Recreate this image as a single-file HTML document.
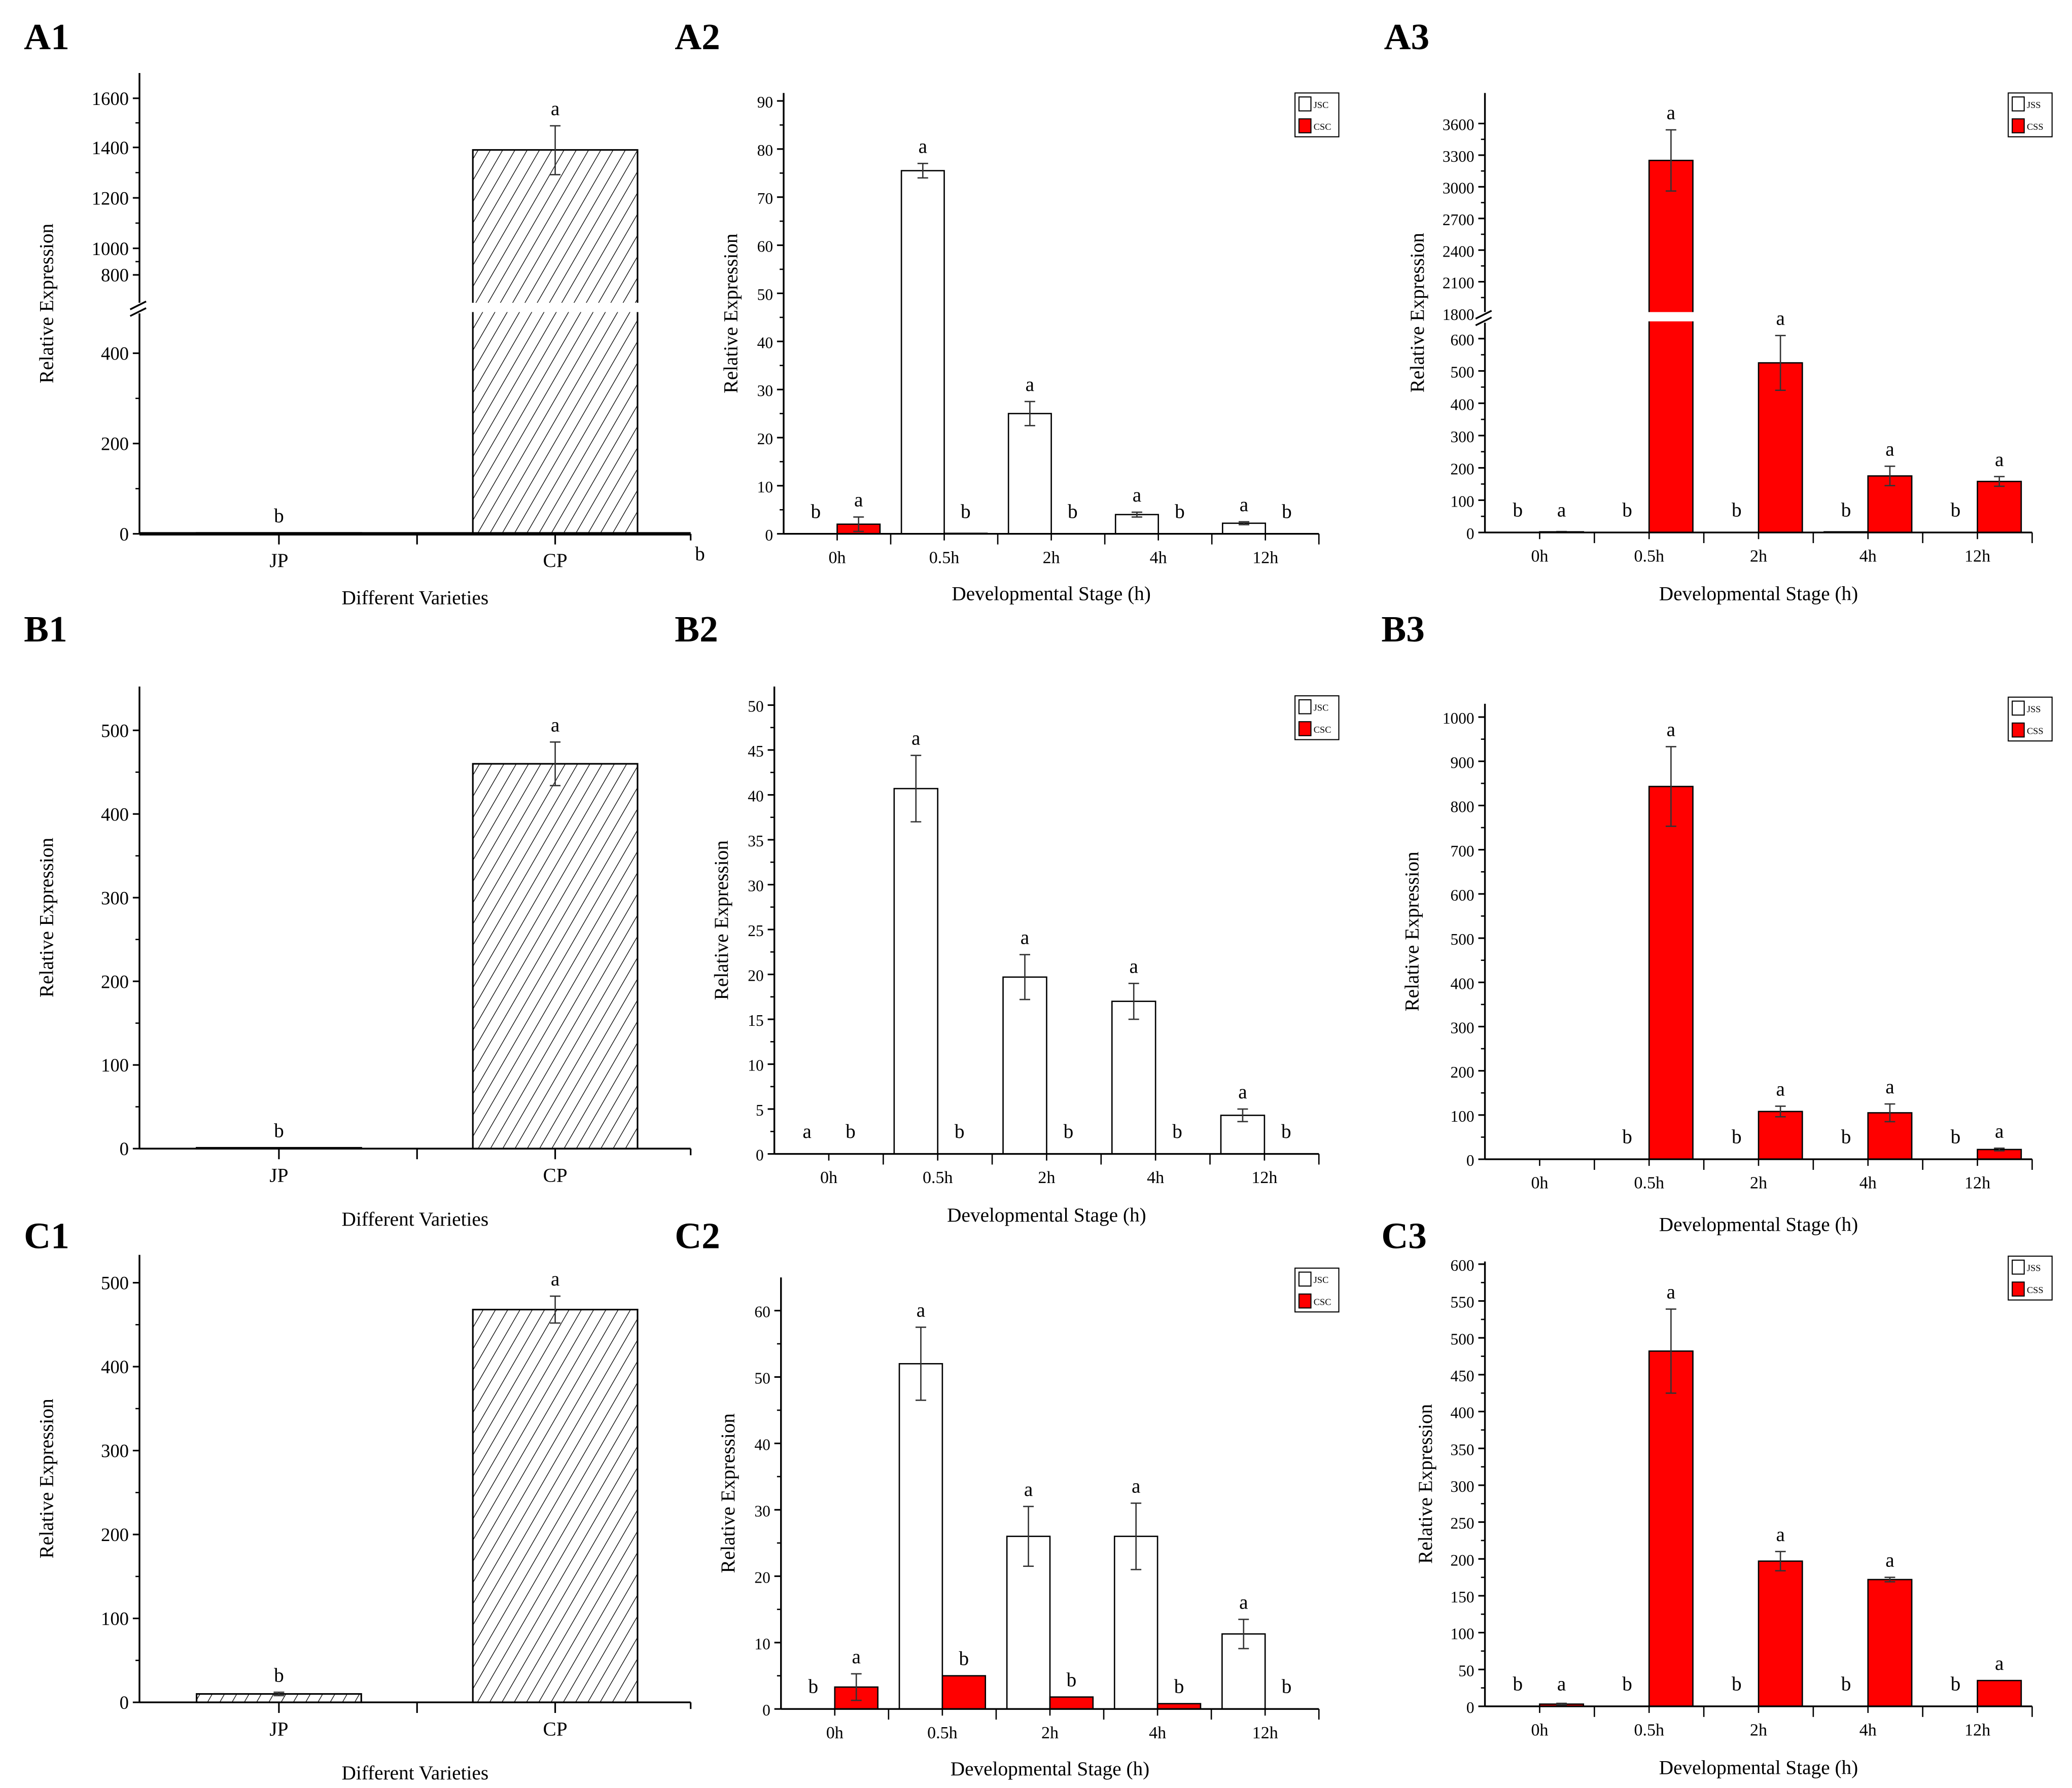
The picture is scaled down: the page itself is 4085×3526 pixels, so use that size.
<!DOCTYPE html>
<html><head><meta charset="utf-8"><style>
html,body{margin:0;padding:0;background:#fff}
svg{display:block;font-family:"Liberation Serif",serif}
</style></head><body>
<svg id="fig" width="4085" height="3526" viewBox="0 0 1560 1346.5" xmlns="http://www.w3.org/2000/svg">
<defs><pattern id="hatch" patternUnits="userSpaceOnUse" width="8" height="8" patternTransform="rotate(30)"><rect width="8" height="8" fill="#fff"/><line x1="0" y1="0" x2="0" y2="8" stroke="#000" stroke-width="1"/></pattern></defs>
<rect width="1560" height="1346.5" fill="#fff"/>
</svg>
<script>
// ---- data ----
const A1_cats=["JP","CP"]; const A1_vals=[2,1390]; const A1_err=[0,98]; const A1_let=["b","a"];
const A1_ticks=[0,200,400,800,1000,1200,1400,1600];
const B1_cats=["JP","CP"]; const B1_vals=[1,460]; const B1_err=[0,26]; const B1_let=["b","a"];
const B1_ticks=[0,100,200,300,400,500];
const C1_cats=["JP","CP"]; const C1_vals=[10,468]; const C1_err=[2,16]; const C1_let=["b","a"];
const C1_ticks=[0,100,200,300,400,500];
const stages=["0h","0.5h","2h","4h","12h"];
const A2_jsc=[0,75.5,25,4,2.2]; const A2_jscErr=[0,1.5,2.5,0.5,0.3]; const A2_csc=[2,0.1,0,0,0]; const A2_cscErr=[1.5,0,0,0,0];
const A2_ljsc=["b","a","a","a","a"]; const A2_lcsc=["a","b","b","b","b"]; const A2_ticks=[0,10,20,30,40,50,60,70,80,90];
const B2_jsc=[0,40.7,19.7,17,4.3]; const B2_jscErr=[0,3.7,2.5,2,0.7]; const B2_csc=[0,0,0,0,0]; const B2_cscErr=[0,0,0,0,0];
const B2_ljsc=["a","a","a","a","a"]; const B2_lcsc=["b","b","b","b","b"]; const B2_ticks=[0,5,10,15,20,25,30,35,40,45,50];
const C2_jsc=[0,52,26,26,11.3]; const C2_jscErr=[0,5.5,4.5,5,2.2]; const C2_csc=[3.3,5,1.8,0.8,0]; const C2_cscErr=[2,0,0,0,0];
const C2_ljsc=["b","a","a","a","a"]; const C2_lcsc=["a","b","b","b","b"]; const C2_ticks=[0,10,20,30,40,50,60];
const A3_jss=[0,0,0,2,0]; const A3_css=[2,3250,525,175,158]; const A3_cssErr=[1,290,85,30,15];
const A3_ljss=["b","b","b","b","b"]; const A3_lcss=["a","a","a","a","a"];
const A3_ticks=[0,100,200,300,400,500,600,1800,2100,2400,2700,3000,3300,3600];
const B3_jss=[0,0,0,0,0]; const B3_css=[0,843,108,105,22]; const B3_cssErr=[0,90,12,20,3];
const B3_ljss=["","b","b","b","b"]; const B3_lcss=["","a","a","a","a"];
const B3_ticks=[0,100,200,300,400,500,600,700,800,900,1000];
const C3_jss=[0,0,0,0,0]; const C3_css=[3,482,197,172,35]; const C3_cssErr=[1,57,13,3,0];
const C3_ljss=["b","b","b","b","b"]; const C3_lcss=["a","a","a","a","a"];
const C3_ticks=[0,50,100,150,200,250,300,350,400,450,500,550,600];

const svg=document.getElementById('fig'); const NS='http://www.w3.org/2000/svg';
function mk(tag,attrs,parent){const e=document.createElementNS(NS,tag);for(const k in attrs)e.setAttribute(k,attrs[k]);(parent||svg).appendChild(e);return e;}
function txt(s,x,y,size,anchor,parent,extra){const t=mk('text',Object.assign({x:x,y:y,'font-size':size,'text-anchor':anchor||'middle'},extra||{}),parent);t.textContent=s;return t;}
// piecewise linear scale through [value,pixel] knots
function pscale(knots){return v=>{for(let i=0;i<knots.length-1;i++){const a=knots[i],b=knots[i+1];if(v<=b[0]||i==knots.length-2){return a[1]+(v-a[0])*(b[1]-a[1])/(b[0]-a[0]);}}};}
function label(s,x,y){const t=txt(s,x,y,28,'start',null,{'font-weight':'bold'});}

function axes(g,p,ticks,y){
  mk('line',{x1:p.x0,y1:p.top,x2:p.x0,y2:p.bot,stroke:'#000','stroke-width':1.3},g);
  mk('line',{x1:p.x0,y1:p.bot,x2:p.x1,y2:p.bot,stroke:'#000','stroke-width':p.thick||1.3},g);
  ticks.forEach(v=>{const yy=y(v);mk('line',{x1:p.x0-5,y1:yy,x2:p.x0,y2:yy,stroke:'#000','stroke-width':1.2},g);
    const t=txt(String(v),p.x0-8,yy+5,p.fs||14,'end',g);});
  for(let i=0;i<ticks.length-1;i++){if(p.brk&&ticks[i]==p.brk[0])continue;const m=y((ticks[i]+ticks[i+1])/2);mk('line',{x1:p.x0-3,y1:m,x2:p.x0,y2:m,stroke:'#000','stroke-width':1},g);}
  const yt=txt('Relative Expression',0,0,15,'middle',g,{transform:`translate(${p.yt},${(p.top+p.bot)/2}) rotate(-90)`});
  
  const xt=txt(p.xtitle,(p.x0+p.x1)/2-(p.xtOff||0),p.xty,15,'middle',g);
  
}
function errbar(g,x,y0,y1,y2){mk('line',{x1:x,y1:y1,x2:x,y2:y2,stroke:'#333','stroke-width':1},g);[y1,y2].forEach(yy=>mk('line',{x1:x-4,y1:yy,x2:x+4,y2:yy,stroke:'#333','stroke-width':1},g));}
function breakMark(g,p,yb,bar){
  mk('rect',{x:p.x0-6,y:yb-4,width:12,height:8,fill:'#fff'},g);
  mk('line',{x1:p.x0-7,y1:yb+1,x2:p.x0+5,y2:yb-5,stroke:'#000','stroke-width':1.3},g);
  mk('line',{x1:p.x0-7,y1:yb+6,x2:p.x0+5,y2:yb,stroke:'#000','stroke-width':1.3},g);
  if(bar)mk('rect',{x:bar[0]-1,y:yb-4,width:bar[1]+2,height:7,fill:'#fff'},g);
}
function panel1(name,p,cats,vals,err,lets,ticks,knots){
  const g=mk('g',{});  
  const y=pscale(knots);
  const cx=[p.x0+105,p.x0+313]; const bw=124;
  cats.forEach((c,i)=>{const yv=y(vals[i]);
    const r=mk('rect',{x:cx[i]-bw/2,y:yv,width:bw,height:p.bot-yv,fill:'url(#hatch)',stroke:'#000','stroke-width':1.2},g);
    
    if(err[i]>0)errbar(g,cx[i],yv,y(vals[i]+err[i]),y(vals[i]-err[i]));
    const lt=txt(lets[i],cx[i],y(vals[i]+err[i])-8,15,'middle',g);
    const xl=txt(c,cx[i],p.bot+25,15,'middle',g);
  });
  p.thick=p.brk?2.5:1.3;
  axes(g,p,ticks,y);
  [cx[0],(cx[0]+cx[1])/2,cx[1],p.x1].forEach(x=>mk('line',{x1:x,y1:p.bot,x2:x,y2:p.bot+(x==p.x1?5:8),stroke:'#000','stroke-width':1.2},g));
  if(p.brk)breakMark(g,p,p.brkY,[cx[1]-bw/2,bw]);
  return g;
}
function legend(g,x,y,h,names){
  const lg=mk('g',{},g);
  mk('rect',{x:x,y:y,width:33,height:h,fill:'#fff',stroke:'#000','stroke-width':0.8},lg);
  names.forEach((n,i)=>{const yy=y+3+i*h/2;mk('rect',{x:x+3,y:yy,width:9,height:h/2-6,fill:i?'#ff0000':'#fff',stroke:'#000','stroke-width':0.8},lg);
    const t=txt(n,x+14,yy+h/4,7,'start',lg);});
}
function panel2(name,p,s1,e1,s2,e2,l1,l2,ticks,knots,leg){
  const g=mk('g',{});  
  const y=pscale(knots); const gw=(p.x1-p.x0)/5; const bw=gw*0.4;
  stages.forEach((s,i)=>{const c=p.x0+gw*(i+0.5);
    [[s1,e1,l1,'#fff',-1],[s2,e2,l2,'#ff0000',0]].forEach(([v,e,l,col,off],k)=>{
      const yv=y(v[i]); const bx=c+off*bw;
      if(v[i]>0){const r=mk('rect',{x:bx,y:yv,width:bw,height:p.bot-yv,fill:col,stroke:'#000','stroke-width':1},g);
        }
      if(e[i]>0)errbar(g,bx+bw/2,yv,y(v[i]+e[i]),y(Math.max(0,v[i]-e[i])));
      if(l[i]){const lt=txt(l[i],bx+bw/2,Math.min(y(v[i]+e[i]),p.bot-4)-8,15,'middle',g);}
    });
    mk('line',{x1:c,y1:p.bot,x2:c,y2:p.bot+5,stroke:'#000','stroke-width':1},g);
    mk('line',{x1:p.x0+gw*(i+1),y1:p.bot,x2:p.x0+gw*(i+1),y2:p.bot+8,stroke:'#000','stroke-width':1},g);
    const xl=txt(s,c,p.bot+22,13,'middle',g);
  });
  p.fs=12; axes(g,p,ticks,y);
  if(p.brk)breakMark(g,p,p.brkY,[p.x0+gw*1.5,bw]);
  legend(g,p.lx,p.ly,33,leg);
  return g;
}
label('A1',18,37);label('A2',508,37);label('A3',1042,37);
label('B1',18,483);label('B2',508,483);label('B3',1040,483);
label('C1',18,940);label('C2',508,940);label('C3',1040,940);

panel1('chart-a1',{x0:105,x1:520,top:55,bot:402,yt:40,xtitle:'Different Varieties',xty:455,brk:[400],brkY:232},A1_cats,A1_vals,A1_err,A1_let,A1_ticks,
  [[0,402],[200,334],[400,266],[530,222],[700,217],[800,207],[1000,187],[1200,149],[1400,111],[1600,74]]);
(function(){const t=txt('b',527,422,15,'middle');})();
panel1('chart-b1',{x0:105,x1:520,top:517,bot:865,yt:40,xtitle:'Different Varieties',xty:923},B1_cats,B1_vals,B1_err,B1_let,B1_ticks,[[0,865],[500,550]]);
panel1('chart-c1',{x0:105,x1:520,top:945,bot:1282,yt:40,xtitle:'Different Varieties',xty:1340},C1_cats,C1_vals,C1_err,C1_let,C1_ticks,[[0,1282],[500,966]]);

panel2('chart-a2',{x0:590,x1:993,top:70,bot:402,yt:555,xtitle:'Developmental Stage (h)',xty:452,lx:975,ly:70},A2_jsc,A2_jscErr,A2_csc,A2_cscErr,A2_ljsc,A2_lcsc,A2_ticks,[[0,402],[90,76]],['JSC','CSC']);
panel2('chart-b2',{x0:583,x1:993,top:517,bot:869,yt:548,xtitle:'Developmental Stage (h)',xty:920,lx:975,ly:524},B2_jsc,B2_jscErr,B2_csc,B2_cscErr,B2_ljsc,B2_lcsc,B2_ticks,[[0,869],[50,531]],['JSC','CSC']);
panel2('chart-c2',{x0:588,x1:993,top:962,bot:1287,yt:553,xtitle:'Developmental Stage (h)',xty:1337,lx:975,ly:955},C2_jsc,C2_jscErr,C2_csc,C2_cscErr,C2_ljsc,C2_lcsc,C2_ticks,[[0,1287],[60,987]],['JSC','CSC']);

panel2('chart-a3',{x0:1118,x1:1530,top:70,bot:401,yt:1072,xtitle:'Developmental Stage (h)',xty:452,lx:1512,ly:70,brk:[600],brkY:239},A3_jss,[0,0,0,0,0],A3_css,A3_cssErr,A3_ljss,A3_lcss,A3_ticks,
  [[0,401],[600,255],[660,241],[1760,239],[1800,236],[3600,93]],['JSS','CSS']);
panel2('chart-b3',{x0:1118,x1:1530,top:530,bot:873,yt:1068,xtitle:'Developmental Stage (h)',xty:927,lx:1512,ly:525},B3_jss,[0,0,0,0,0],B3_css,B3_cssErr,B3_ljss,B3_lcss,B3_ticks,[[0,873],[1000,540]],['JSS','CSS']);
panel2('chart-c3',{x0:1118,x1:1530,top:950,bot:1285,yt:1078,xtitle:'Developmental Stage (h)',xty:1336,lx:1512,ly:946},C3_jss,[0,0,0,0,0],C3_css,C3_cssErr,C3_ljss,C3_lcss,C3_ticks,[[0,1285],[600,952]],['JSS','CSS']);
</script>
</body></html>
